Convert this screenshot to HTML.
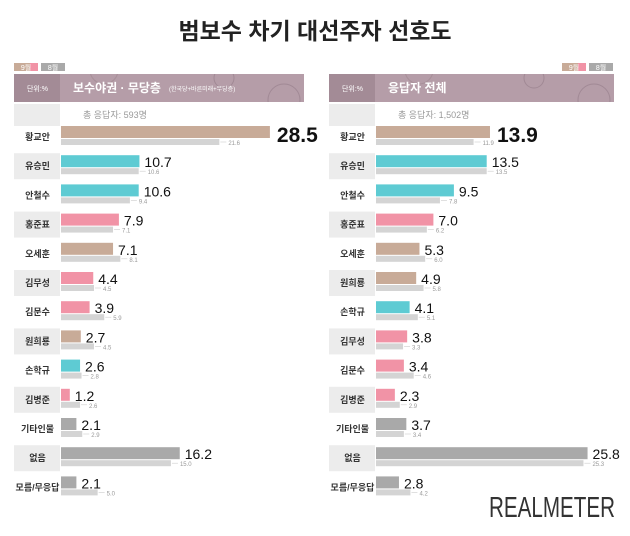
<!DOCTYPE html>
<html><head><meta charset="utf-8"><style>
body{margin:0;background:#fff;width:630px;height:531px;overflow:hidden;font-family:"Liberation Sans","Noto Sans CJK KR",sans-serif}
</style></head><body>
<svg id="c" width="630" height="531" xmlns="http://www.w3.org/2000/svg">
<text x="315" y="39" text-anchor="middle" font-size="23" font-weight="bold" fill="#222">범보수 차기 대선주자 선호도</text>
<text x="489" y="517" font-size="29" fill="#333" textLength="126" lengthAdjust="spacingAndGlyphs">REALMETER</text>
</svg>
<script>
const leftNames=["황교안","유승민","안철수","홍준표","오세훈","김무성","김문수","원희룡","손학규","김병준","기타인물","없음","모름/무응답"];
const leftSep=[28.5,10.7,10.6,7.9,7.1,4.4,3.9,2.7,2.6,1.2,2.1,16.2,2.1];
const leftAug=[21.6,10.6,9.4,7.1,8.1,4.5,5.9,4.5,2.8,2.6,2.9,15.0,5.0];
const leftCol=["t","b","b","p","t","p","p","t","b","p","g","g","g"];
const rightNames=["황교안","유승민","안철수","홍준표","오세훈","원희룡","손학규","김무성","김문수","김병준","기타인물","없음","모름/무응답"];
const rightSep=[13.9,13.5,9.5,7.0,5.3,4.9,4.1,3.8,3.4,2.3,3.7,25.8,2.8];
const rightAug=[11.9,13.5,7.8,6.2,6.0,5.8,5.1,3.3,4.6,2.9,3.4,25.3,4.2];
const rightCol=["t","b","b","p","t","t","b","p","p","p","g","g","g"];
const colors={t:"#c8ab98",b:"#5ecbd3",p:"#f193a6",g:"#a9a9a9"};
const svg=document.getElementById('c');
const NS="http://www.w3.org/2000/svg";
function mk(tag,attrs,txt,parent){const e=document.createElementNS(NS,tag);for(const k in attrs)e.setAttribute(k,attrs[k]);if(txt!==undefined)e.textContent=txt;(parent||svg).appendChild(e);return e;}
function panel(x0,w,names,sep,aug,cols,scale,title,sub,total,legendRight,pfx){
  const lw=47,bx=x0+lw;
  const xs=v=>bx+v*scale;
  const rowY=i=>122+i*29.2;
  let e;
  const lx=legendRight?x0+w-52:x0;
  e=mk('rect',{x:lx,y:63,width:24,height:8,fill:"#c8ab98"});
  
  mk('rect',{x:lx+16,y:63,width:8,height:8,fill:"#f193a6"});
  mk('text',{x:lx+12,y:70,'font-size':7,fill:"#fff",'text-anchor':'middle'},"9월");
  e=mk('rect',{x:lx+27,y:63,width:24,height:8,fill:"#a9a9a9"});
  
  mk('text',{x:lx+39,y:70,'font-size':7,fill:"#fff",'text-anchor':'middle'},"8월");
  const cp=mk('clipPath',{id:pfx+'clip'});
  mk('rect',{x:x0,y:74,width:w,height:28},undefined,cp);
  e=mk('rect',{x:x0,y:74,width:w,height:28,fill:"#b59da8"});
  
  mk('rect',{x:x0,y:74,width:lw-1,height:28,fill:"#a38b96"});
  const g=mk('g',{'clip-path':'url(#'+pfx+'clip)'});
  mk('circle',{cx:x0+w-20,cy:100,r:16,fill:"none",stroke:"#a18995"},undefined,g);
  mk('circle',{cx:x0+w-80,cy:78,r:10,fill:"none",stroke:"#a18995"},undefined,g);
  mk('circle',{cx:x0+90,cy:70,r:14,fill:"none",stroke:"#a89099"},undefined,g);
  mk('text',{x:x0+lw/2,y:91,'font-size':7,fill:"#fff",'text-anchor':'middle'},"단위:%");
  mk('text',{x:bx+12,y:92,'font-size':12,'font-weight':'bold',fill:"#fff"},title);
  if(sub)mk('text',{x:bx+108,y:91,'font-size':6,fill:"#fff"},sub);
  mk('rect',{x:x0,y:104,width:lw-1,height:22,fill:"#ececec"});
  mk('text',{x:bx+22,y:118,'font-size':9,fill:"#999"},total);
  names.forEach((n,i)=>{
    const y=rowY(i);
    if(i%2==1){mk('rect',{x:x0,y:y+2,width:lw-1,height:26,fill:"#ececec"});}
    const t=mk('text',{x:x0+lw/2,y:y+18,'font-size':9,'font-weight':'bold',fill:"#333",'text-anchor':'middle'},n);
    
    const b=mk('rect',{x:bx,y:y+4,width:xs(sep[i])-bx,height:12,fill:colors[cols[i]]});
    
    const gr=mk('rect',{x:bx,y:y+17,width:xs(aug[i])-bx,height:6,fill:"#d4d4d4"});
    
    const big=i==0;
    const v=mk('text',{x:xs(sep[i])+(big?7:5),y:y+(big?20:16),'font-size':big?21:14,'font-weight':big?'bold':'normal',fill:"#111"},sep[i].toFixed(1));
    
    mk('line',{x1:xs(aug[i])+1,x2:xs(aug[i])+7,y1:y+20,y2:y+20,stroke:"#ccc",'stroke-width':0.6});
    const a=mk('text',{x:xs(aug[i])+9,y:y+23,'font-size':6,fill:"#999"},aug[i].toFixed(1));
    
  });
}
panel(14,290,leftNames,leftSep,leftAug,leftCol,7.33,"보수야권 · 무당층","(한국당+바른미래+무당층)","총 응답자: 593명",false,"left");
panel(329,285,rightNames,rightSep,rightAug,rightCol,8.2,"응답자 전체","","총 응답자: 1,502명",true,"right");
</script>
</body></html>
